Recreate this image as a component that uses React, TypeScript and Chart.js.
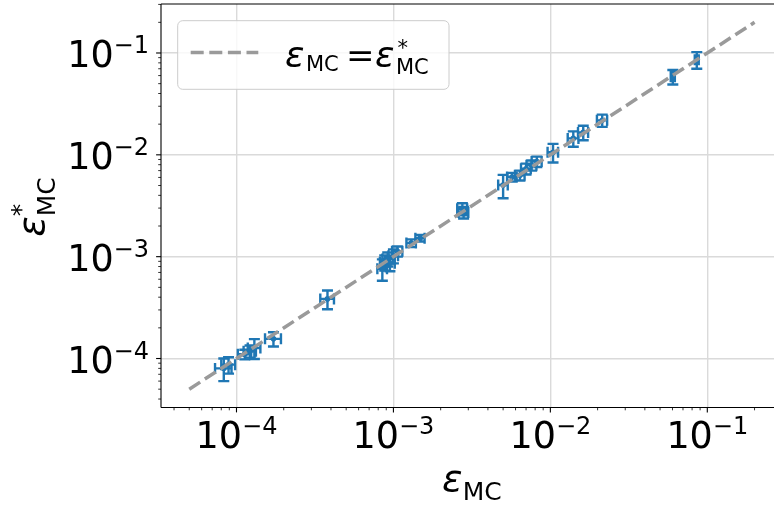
import React, { useEffect, useRef } from 'react';
import { Chart, registerables } from 'chart.js';

Chart.register(...registerables);

// ---- data ----
const xValues = [
  8.3e-5, 8.9e-5, 1.13e-4, 1.22e-4, 1.3e-4, 1.72e-4, 3.8e-4,
  8.5e-4, 8.8e-4, 9.2e-4, 9.5e-4, 1.0e-3, 1.06e-3, 1.3e-3, 1.48e-3,
  2.75e-3, 2.8e-3,
  5.0e-3, 5.7e-3, 6.4e-3, 7.0e-3, 7.6e-3, 8.2e-3, 1.04e-2,
  1.4e-2, 1.62e-2, 2.14e-2, 6.03e-2, 8.57e-2,
];
const yValues = [
  8.0e-5, 8.7e-5, 1.1e-4, 1.18e-4, 1.27e-4, 1.56e-4, 3.85e-4,
  7.6e-4, 8.8e-4, 9.5e-4, 8.6e-4, 1.02e-3, 1.13e-3, 1.36e-3, 1.52e-3,
  2.95e-3, 2.72e-3,
  5.05e-3, 6.05e-3, 6.3e-3, 7.3e-3, 7.9e-3, 8.6e-3, 1.06e-2,
  1.45e-2, 1.66e-2, 2.18e-2, 5.85e-2, 8.6e-2,
];
const xErrors = [
  1.0e-5, 9e-6, 1.1e-5, 1.1e-5, 1.2e-5, 2.0e-5, 3.8e-5,
  6e-5, 6e-5, 7e-5, 7e-5, 7e-5, 8e-5, 9e-5, 1.0e-4,
  2e-4, 2e-4,
  3.5e-4, 4e-4, 4.5e-4, 5e-4, 5.5e-4, 6e-4, 8e-4,
  1.1e-3, 1.2e-3, 1.6e-3, 1.8e-3, 2.5e-3,
];
const yErrors = [
  2.0e-5, 1.6e-5, 1.2e-5, 1.6e-5, 2.8e-5, 2.5e-5, 8e-5,
  1.8e-4, 1.5e-4, 1.5e-4, 1.4e-4, 1.6e-4, 1.3e-4, 1.2e-4, 1.1e-4,
  4e-4, 3.5e-4,
  1.3e-3, 6e-4, 7e-4, 9e-4, 9e-4, 1.0e-3, 2.2e-3,
  2.5e-3, 2.7e-3, 3.0e-3, 9.5e-3, 1.6e-2,
];
const refLineX = [5e-5, 0.2];
const xTickExponents = [-4, -3, -2, -1];
const yTickExponents = [-4, -3, -2, -1];

// axis limits (log10)
const X_LOG_MIN = -4.481;
const X_LOG_MAX = -0.575; // visible part, plot continues past the picture edge
const X_LOG_MAX_FULL = -0.519;
const Y_LOG_MIN = -4.481;
const Y_LOG_MAX = -0.519;

// ---- style ----
const BLUE = '#1f77b4';
const LINE_GRAY = '#9a9a9a';
const GRID = '#dadada';
const FONT = "'DejaVu Sans'";
const TICK_FONT = 36.5;
const SUP_FONT = 24;
const SUP_RAISE = 13.5;

function buildLogTicks(minLog: number, maxLog: number) {
  const out: { value: number; major: boolean }[] = [];
  for (let e = Math.floor(minLog); e <= Math.ceil(maxLog); e++) {
    for (let m = 1; m <= 9; m++) {
      const v = m * Math.pow(10, e);
      const lv = Math.log10(v);
      if (lv >= minLog - 1e-9 && lv <= maxLog + 1e-9) out.push({ value: v, major: m === 1 });
    }
  }
  return out;
}

function isPow10(v: number) {
  const l = Math.log10(v);
  return Math.abs(l - Math.round(l)) < 1e-7;
}

function drawPower(ctx: CanvasRenderingContext2D, exp: number, x: number, baseline: number, align: 'center' | 'right') {
  ctx.font = `${TICK_FONT}px ${FONT}`;
  const w1 = ctx.measureText('10').width;
  const sup = '\u2212' + Math.abs(exp);
  ctx.font = `${SUP_FONT}px ${FONT}`;
  const w2 = ctx.measureText(sup).width;
  const total = w1 + w2;
  const left = align === 'center' ? x - total / 2 : x - total;
  ctx.textAlign = 'left';
  ctx.textBaseline = 'alphabetic';
  ctx.font = `${TICK_FONT}px ${FONT}`;
  ctx.fillText('10', left, baseline);
  ctx.font = `${SUP_FONT}px ${FONT}`;
  ctx.fillText(sup, left + w1, baseline - SUP_RAISE);
}

const errorBarPlugin = {
  id: 'errorBars',
  beforeDatasetsDraw(chart: any) {
    const { ctx } = chart;
    const xs = chart.scales.x;
    const ys = chart.scales.y;
    const cap = 5.5;
    ctx.save();
    ctx.strokeStyle = BLUE;
    ctx.lineWidth = 2.4;
    ctx.lineCap = 'butt';
    for (let i = 0; i < xValues.length; i++) {
      const px = xs.getPixelForValue(xValues[i]);
      const py = ys.getPixelForValue(yValues[i]);
      const x1 = xs.getPixelForValue(xValues[i] - xErrors[i]);
      const x2 = xs.getPixelForValue(xValues[i] + xErrors[i]);
      const y1 = ys.getPixelForValue(yValues[i] - yErrors[i]);
      const y2 = ys.getPixelForValue(yValues[i] + yErrors[i]);
      ctx.beginPath();
      ctx.moveTo(x1, py); ctx.lineTo(x2, py);
      ctx.moveTo(px, y1); ctx.lineTo(px, y2);
      // caps
      ctx.moveTo(x1, py - cap); ctx.lineTo(x1, py + cap);
      ctx.moveTo(x2, py - cap); ctx.lineTo(x2, py + cap);
      ctx.moveTo(px - cap, y1); ctx.lineTo(px + cap, y1);
      ctx.moveTo(px - cap, y2); ctx.lineTo(px + cap, y2);
      ctx.stroke();
    }
    ctx.restore();
  },
};

const decorPlugin = {
  id: 'decor',
  afterDraw(chart: any) {
    const { ctx, chartArea } = chart;
    const xs = chart.scales.x;
    const ys = chart.scales.y;
    const { left, top, right, bottom } = chartArea;
    ctx.save();

    // spines (right spine lies beyond the picture edge)
    ctx.strokeStyle = '#000';
    ctx.lineWidth = 1.1;
    ctx.beginPath();
    ctx.moveTo(left, top); ctx.lineTo(right + 2, top);
    ctx.moveTo(left, top); ctx.lineTo(left, bottom);
    ctx.moveTo(left, bottom); ctx.lineTo(right + 2, bottom);
    ctx.stroke();

    // tick marks
    for (const t of xs.ticks) {
      const px = xs.getPixelForValue(t.value);
      if (px < left - 0.5 || px > right + 0.5) continue;
      const major = isPow10(t.value);
      ctx.lineWidth = major ? 1.1 : 0.8;
      ctx.beginPath();
      ctx.moveTo(px, bottom);
      ctx.lineTo(px, bottom + (major ? 4.9 : 2.8));
      ctx.stroke();
    }
    for (const t of ys.ticks) {
      const py = ys.getPixelForValue(t.value);
      if (py < top - 0.5 || py > bottom + 0.5) continue;
      const major = isPow10(t.value);
      ctx.lineWidth = major ? 1.1 : 0.8;
      ctx.beginPath();
      ctx.moveTo(left, py);
      ctx.lineTo(left - (major ? 4.9 : 2.8), py);
      ctx.stroke();
    }

    // tick labels
    ctx.fillStyle = '#000';
    for (const e of xTickExponents) {
      const px = xs.getPixelForValue(Math.pow(10, e));
      drawPower(ctx, e, px, 447.5, 'center');
    }
    for (const e of yTickExponents) {
      const py = ys.getPixelForValue(Math.pow(10, e));
      drawPower(ctx, e, 149, py + 14, 'right');
    }

    // x axis label: epsilon_MC
    const xCenter = xs.getPixelForValue(Math.pow(10, (X_LOG_MIN + X_LOG_MAX_FULL) / 2));
    ctx.font = `italic 38px ${FONT}`;
    const wEps = ctx.measureText('\u03b5').width;
    ctx.font = `25px ${FONT}`;
    const wMC = ctx.measureText('MC').width;
    const xl = xCenter - (wEps + wMC) / 2;
    ctx.font = `italic 38px ${FONT}`;
    ctx.fillText('\u03b5', xl, 491);
    ctx.font = `25px ${FONT}`;
    ctx.fillText('MC', xl + wEps, 500);

    // y axis label: epsilon*_MC (rotated)
    const yCenter = (top + bottom) / 2;
    ctx.save();
    ctx.translate(43.5, yCenter + 31);
    ctx.rotate(-Math.PI / 2);
    ctx.font = `italic 38px ${FONT}`;
    ctx.fillText('\u03b5', 0, 0);
    const wE = ctx.measureText('\u03b5').width;
    ctx.font = `25px ${FONT}`;
    ctx.fillText('*', wE, -15);
    ctx.fillText('MC', wE, 11);
    ctx.restore();

    // legend
    const lx = 177.7, ly = 20.7, lw = 271.3, lh = 68.6, r = 5;
    ctx.beginPath();
    ctx.moveTo(lx + r, ly);
    ctx.lineTo(lx + lw - r, ly);
    ctx.arcTo(lx + lw, ly, lx + lw, ly + r, r);
    ctx.lineTo(lx + lw, ly + lh - r);
    ctx.arcTo(lx + lw, ly + lh, lx + lw - r, ly + lh, r);
    ctx.lineTo(lx + r, ly + lh);
    ctx.arcTo(lx, ly + lh, lx, ly + lh - r, r);
    ctx.lineTo(lx, ly + r);
    ctx.arcTo(lx, ly, lx + r, ly, r);
    ctx.closePath();
    ctx.fillStyle = 'rgba(255,255,255,0.8)';
    ctx.fill();
    ctx.strokeStyle = '#cccccc';
    ctx.lineWidth = 1;
    ctx.stroke();

    ctx.strokeStyle = LINE_GRAY;
    ctx.lineWidth = 3.5;
    ctx.setLineDash([13, 5.6]);
    ctx.beginPath();
    ctx.moveTo(190.7, 52.5);
    ctx.lineTo(258.3, 52.5);
    ctx.stroke();
    ctx.setLineDash([]);

    // legend text: eps_MC = eps*_MC
    ctx.fillStyle = '#000';
    const mainF = `italic 36px ${FONT}`;
    const subF = `21px ${FONT}`;
    const base = 66.5;
    ctx.font = mainF;
    const we = ctx.measureText('\u03b5').width;
    ctx.fillText('\u03b5', 285, base);
    ctx.font = subF;
    ctx.fillText('MC', 285 + we + 1.5, base + 4);
    ctx.font = `34px ${FONT}`;
    ctx.fillText('=', 346, base);
    ctx.font = mainF;
    ctx.fillText('\u03b5', 375, base);
    ctx.font = subF;
    ctx.fillText('*', 375 + we + 3, base - 12);
    ctx.fillText('MC', 375 + we + 1.5, base + 7.5);

    ctx.restore();
  },
};

export default function App() {
  const ref = useRef<HTMLCanvasElement>(null);
  useEffect(() => {
    const canvas = ref.current;
    if (!canvas) return;
    const chart = new Chart(canvas, {
      type: 'scatter',
      data: {
        datasets: [
          {
            type: 'line',
            data: refLineX.map((v) => ({ x: v, y: v })),
            borderColor: LINE_GRAY,
            borderWidth: 3.5,
            borderDash: [13, 5.6],
            pointRadius: 0,
            fill: false,
            tension: 0,
            order: 0,
          } as any,
          {
            type: 'scatter',
            data: xValues.map((v, i) => ({ x: v, y: yValues[i] })),
            backgroundColor: BLUE,
            borderWidth: 0,
            pointRadius: 2.8,
            order: 1,
          } as any,
        ],
      },
      options: {
        responsive: false,
        animation: false,
        devicePixelRatio: 1,
        events: [],
        layout: { autoPadding: false, padding: { top: 4, right: 0, left: 0, bottom: 0 } },
        plugins: { legend: { display: false }, tooltip: { enabled: false } },
        scales: {
          x: {
            type: 'logarithmic',
            min: Math.pow(10, X_LOG_MIN),
            max: Math.pow(10, X_LOG_MAX),
            afterBuildTicks: (scale: any) => {
              scale.ticks = buildLogTicks(X_LOG_MIN, X_LOG_MAX);
            },
            afterFit: (scale: any) => {
              scale.height = 99.5;
            },
            ticks: { display: false },
            grid: {
              drawTicks: false,
              lineWidth: 1.4,
              color: (c: any) => (c.tick && isPow10(c.tick.value) ? GRID : 'rgba(0,0,0,0)'),
            },
            border: { display: false },
          },
          y: {
            type: 'logarithmic',
            min: Math.pow(10, Y_LOG_MIN),
            max: Math.pow(10, Y_LOG_MAX),
            afterBuildTicks: (scale: any) => {
              scale.ticks = buildLogTicks(Y_LOG_MIN, Y_LOG_MAX);
            },
            afterFit: (scale: any) => {
              scale.width = 161;
            },
            ticks: { display: false },
            grid: {
              drawTicks: false,
              lineWidth: 1.4,
              color: (c: any) => (c.tick && isPow10(c.tick.value) ? GRID : 'rgba(0,0,0,0)'),
            },
            border: { display: false },
          },
        },
      } as any,
      plugins: [errorBarPlugin, decorPlugin],
    });
    return () => chart.destroy();
  }, []);
  return (
    <div style={{ position: 'absolute', left: 0, top: 0, width: 774, height: 507, background: '#fff', overflow: 'hidden' }}>
      <canvas ref={ref} width={774} height={507} style={{ display: 'block' }} />
    </div>
  );
}
